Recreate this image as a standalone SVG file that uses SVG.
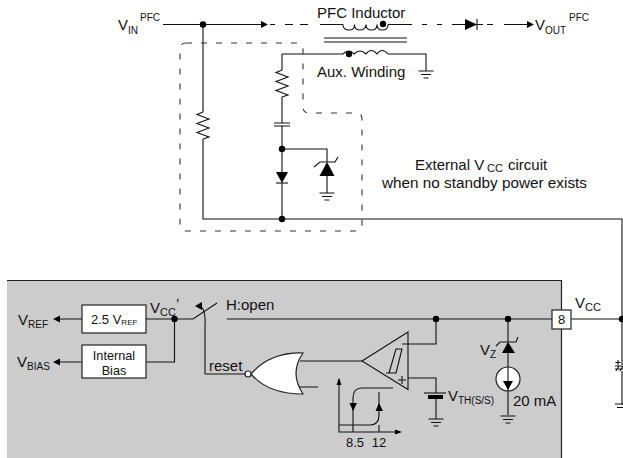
<svg xmlns="http://www.w3.org/2000/svg" width="623" height="458" viewBox="0 0 623 458">
<style>
text{font-family:"Liberation Sans",Arial,sans-serif;font-size:15px;fill:#111}
.s{font-size:10px}.c{font-size:11px}.m{font-size:13px}.n{font-size:12.700px}
.l{fill:none;stroke:#111;stroke-width:1.1}
.g{fill:none;stroke:#333;stroke-width:1.1;stroke-dasharray:6 9}
.f{fill:#000;stroke:none}
.w{fill:#fff;stroke:#222;stroke-width:1.2}
</style>
<defs>
<g id="gnd"><path class="l" d="M-7.500 0H7.500M-5 3.500H5M-2.500 7H2.500"/></g>
<g id="dot"><circle r="3.200" class="f"/></g>
</defs>
<rect id="chip" x="7" y="280" width="554" height="190" fill="#cccccc"/>
<path d="M7 280.500H561.500V458" fill="none" stroke="#222" stroke-width="1.2"/>
<g id="connectors">
<path class="l" d="M163 24.500H262M270 24.500H275M285 24.500H293M300 24.500H308M320 24.500H343M388 24.500H412M422 24.500H427M437 24.500H442M452 24.500H483M487 24.500H493M504 24.500H527"/>
<path class="l" d="M203 24.500V112M203 139V219H622V405M282 54V70M282 97V123M282 126V172M282 183V219M282 149H327V162M327 176V193"/>
<path class="l" d="M282 54H343M388 54H426V71"/>
<path class="l" d="M146 319H193L217 303M82 319H60M82 362H60M146 362H174.500V319M227 319H552M571 319H622"/>
<path class="l" d="M205 374V325Q206 312 201 306M205 374H245M300 361H362M299 387H318M402 344H436V319M408 378H436V393M436 397V419M508 319V342M508 353V415"/>
<path class="g" d="M186 43H297Q303 43 303 49V107Q303 113 309 113H356Q362 113 362 119V225Q362 231 356 231H186Q180 231 180 225V49Q180 43 186 43Z"/>
</g>
<g id="arrows">
<path class="f" d="M268 24.500L261 21V28ZM534 24.500L527 21V28ZM53 319L60 315.500V322.500ZM53 362L60 358.500V365.500ZM195 306L202 302V310Z"/>
</g>
<g id="dots">
<use href="#dot" x="203" y="24.500"/><use href="#dot" x="282" y="149"/><use href="#dot" x="282" y="219"/>
<use href="#dot" x="174.500" y="319"/><use href="#dot" x="436" y="319"/><use href="#dot" x="508" y="319"/><use href="#dot" x="622" y="319"/>
</g>
<g id="pfc-inductor">
<path class="l" d="M343 24.500Q343 30 349 30T354.500 24.500Q354.500 30 360 30T366 24.500Q366 30 371.500 30T377 24.500Q377 30 382.500 30T388 24.500M324 38H407M324 42H407"/>
<circle cx="383" cy="24" r="3.200" class="f"/>
<path class="l" d="M343 54Q349 48 354 54Q360 48 366 54Q371 47 377 54Q382 47 388 54"/>
<circle cx="349" cy="54" r="3.200" class="f"/>
<text x="317" y="18">PFC Inductor</text>
<text x="317" y="77">Aux. Winding</text>
</g>
<g id="pfc-diode"><path class="f" d="M465 19V30L477 24.500Z"/><path class="l" d="M477 19V30"/></g>
<g id="vin"><text x="118" y="30">V<tspan class="s" dy="4">IN</tspan><tspan class="s" x="140" y="21">PFC</tspan></text></g>
<g id="vout"><text x="535" y="30">V<tspan class="s" dy="4">OUT</tspan><tspan class="s" x="569" y="21">PFC</tspan></text></g>
<g id="aux-gnd"><use href="#gnd" x="426" y="71"/></g>
<g id="r1"><path class="l" d="M203 112L197 114.500L209 119L197 123.500L209 128L197 132.500L209 137L203 139"/></g>
<g id="r2"><path class="l" d="M282 70L276 72.500L288 77L276 81.500L288 86L276 90.500L288 95L282 97"/></g>
<g id="cap"><path class="l" d="M274 123H290M274 126H290"/></g>
<g id="d2"><path class="f" d="M276 172H288L282 183Z"/><path class="l" d="M276 183H288"/></g>
<g id="zener1"><path class="f" d="M327 162L319.500 176H334.500Z"/><path class="l" d="M314 167L320 162H335L338 157"/><use href="#gnd" x="327" y="193"/></g>
<g id="ext-label">
<text x="415" y="170">External V<tspan class="c" x="487" y="172">CC</tspan><tspan x="508" y="170">circuit</tspan></text>
<text x="484.500" y="188" text-anchor="middle" style="font-size:15.300px">when no standby power exists</text>
</g>
<g id="vref"><text x="18" y="325">V<tspan class="s" dy="3">REF</tspan></text></g>
<g id="vbias"><text x="17" y="367">V<tspan class="s" dy="3">BIAS</tspan></text></g>
<g id="vref-box"><rect class="w" x="82" y="305" width="64" height="28"/><text x="91" y="324" class="m">2.5 V<tspan style="font-size:8px" dy="1">REF</tspan></text></g>
<g id="bias-box"><rect class="w" x="82" y="345" width="64" height="33"/><text x="114" y="360" text-anchor="middle" class="n">Internal</text><text x="114" y="375" text-anchor="middle" class="n">Bias</text></g>
<g id="vcc-int"><text x="150" y="313">V<tspan class="c" dy="3">CC</tspan><tspan x="176" y="309">’</tspan></text></g>
<g id="h-open"><text x="226" y="310">H:open</text></g>
<g id="reset"><text x="209" y="371">reset</text></g>
<g id="nor"><path class="w" d="M251 374Q270 352 303 353Q289 373 303 394Q268 394 251 374Z"/><circle class="w" cx="248" cy="374" r="3"/></g>
<g id="comparator">
<path class="l" d="M362 361L408 332V389.500ZM386 373H396L402 349H396L389 373"/>
<path class="l" d="M398 380H406M402 376V384"/>
</g>
<g id="hyst">
<path class="l" d="M339 379V432H398M393 388H362Q353 388 353 398V432M339 425H370Q379 425 379 415V392M379 432V425"/>
<path class="f" d="M339 378L336.500 385H341.500ZM402 432L395 429.500V434.500ZM353 411L349.500 403H357ZM379 403L375.500 411H383Z"/>
<text x="355" y="447" text-anchor="middle" class="m">8.5</text><text x="379" y="447" text-anchor="middle" class="m">12</text>
</g>
<g id="vth"><path class="l" d="M424 393H446"/><rect x="428" y="395" width="15" height="4" class="f"/><use href="#gnd" x="436" y="419"/><text x="448" y="401">V<tspan class="s" dy="3">TH(S/S)</tspan></text></g>
<g id="zener2"><path class="f" d="M508 342L502 353H515Z"/><path class="l" d="M496 346L500 342H516L518 337"/><text x="480" y="355">V<tspan class="s" dy="3">Z</tspan></text></g>
<g id="source"><circle class="w" cx="508" cy="379" r="12"/><path class="l" d="M508 367V391"/><path class="f" d="M503 381H513L508 390Z"/><use href="#gnd" x="508" y="416"/><text x="513" y="406">20 mA</text></g>
<g id="pin8"><rect class="w" x="552" y="310" width="19" height="19"/><text x="561.500" y="324" text-anchor="middle" class="m">8</text></g>
<g id="vcc"><text x="575" y="308">V<tspan class="c" dy="3">CC</tspan></text></g>
<g id="ext-cap"><rect x="614" y="365" width="9" height="6" fill="#fff"/><path class="l" d="M615 366H623M615 369H623M616 371L619 366M620 371L623 366M618 360V365M615.500 362.500H620.500"/><path class="l" d="M615 404H623M617 407.500H623"/></g>
</svg>
